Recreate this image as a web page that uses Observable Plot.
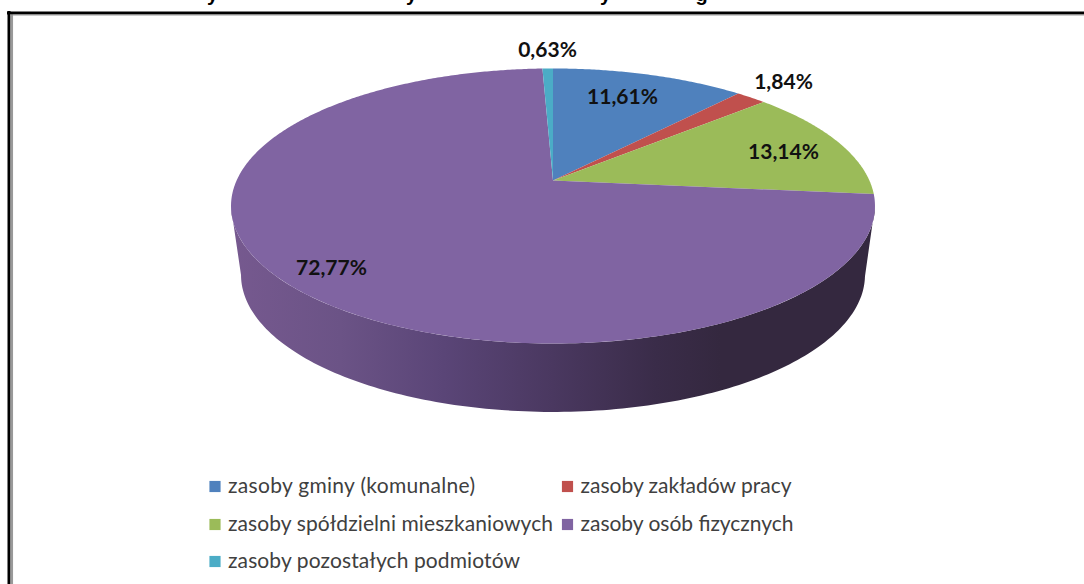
<!DOCTYPE html>
<html><head><meta charset="utf-8">
<style>html,body{margin:0;padding:0;background:#fff;overflow:hidden}svg{display:block}</style>
<script src="https://cdn.jsdelivr.net/npm/d3@7"></script>
<script src="https://cdn.jsdelivr.net/npm/@observablehq/plot@0.6"></script>
</head><body><div id="chart"></div>
<script>
const categories = ["zasoby gminy (komunalne)","zasoby zakładów pracy","zasoby spółdzielni mieszkaniowych","zasoby osób fizycznych","zasoby pozostałych podmiotów"];
const values = [11.61,1.84,13.14,72.77,0.63];
const valueLabels = ["11,61%","1,84%","13,14%","72,77%","0,63%"];
const colors = ["#4f81bd","#c0504d","#9bbb59","#8064a2","#4bacc6"];
const labelX = [622,783,783,331,547];
const labelY = [97,82,152,268,50];
const legendSwatchX = [214.5,567,214.5,567,214.5];
const legendRowY = [486,486,524,524,561];
const legendTextWidths = [247,211,325,213,292];
const titleTailX = [212,411,605,701];
const titleTailText = ["y","y","y","g"];

// perspective projection of the pie disc
const apex = {x:552.5,y:180}, persp = 0.1854, R = 316.4, K = 132.8;
const project = (deg, cx=apex.x, cy=apex.y, sx=1, sy=1) => {
  const t = deg*Math.PI/180, u = Math.sin(t), v = Math.cos(t), d = 1+persp*v;
  return {x: cx + sx*R*u/d, y: cy - sy*K*v/d};
};
const total = d3.sum(values);
let acc = 0;
const sliceRows = [];
categories.forEach((name,i)=>{
  const a0 = acc/total*360; acc += values[i]; const a1 = acc/total*360;
  sliceRows.push({name, ...apex});
  const n = Math.ceil((a1-a0)*2)+1;
  for (let k=0;k<=n;k++) sliceRows.push({name, ...project(a0+(a1-a0)*k/n)});
});
// visible wall: front half of top rim and front half of lower rim
const tiltDeg = Math.acos(-persp)*180/Math.PI; // rim's widest point
const wall = [];
for (let a=tiltDeg; a<=360-tiltDeg+1e-6; a+=1) wall.push(project(a));
const lowSx = 312/322, lowSy = 137/137.5, lowCy = apex.y+69;
for (let a=360-tiltDeg; a>=tiltDeg-1e-6; a-=1) wall.push(project(a,apex.x,lowCy,lowSx,lowSy));

const swatches = categories.map((name,i)=>({name,x:legendSwatchX[i],y:legendRowY[i],w:legendTextWidths[i]}));
const defs = () => {
  const ns = "http://www.w3.org/2000/svg";
  const d = document.createElementNS(ns,"defs");
  const g = document.createElementNS(ns,"linearGradient");
  g.setAttribute("id","wallGrad");
  [[0,"#76598f"],[0.17,"#6b5386"],[0.33,"#5a4577"],[0.5,"#4a3860"],[0.66,"#3a2c49"],[0.76,"#34283f"],[1,"#34283f"]].forEach(([o,c])=>{
    const s = document.createElementNS(ns,"stop"); s.setAttribute("offset",o); s.setAttribute("stop-color",c); g.appendChild(s);
  });
  d.appendChild(g); return d;
};
const chart = Plot.plot({
  width:1084,height:584,margin:0,
  style:{background:"#fff",fontFamily:"Lato"},
  x:{domain:[0,1084],range:[0,1084],axis:null},
  y:{domain:[0,584],range:[0,584],axis:null},
  color:{domain:categories,range:colors},
  marks:[
    defs,
    Plot.line(wall,{x:"x",y:"y",fill:"url(#wallGrad)",stroke:"none"}),
    Plot.line(sliceRows,{x:"x",y:"y",z:"name",fill:"name",stroke:"none"}),
    Plot.text(valueLabels,{x:(d,i)=>labelX[i],y:(d,i)=>labelY[i],text:d=>d,fontSize:21,fontWeight:700,fill:"#111",fontFamily:"Lato"}),
    Plot.dot(swatches,{x:"x",y:"y",symbol:"square",r:6.3,fill:"name",stroke:"none"}),
    Plot.text(swatches,{x:d=>d.x+13,y:"y",text:"name",textAnchor:"start",fontSize:21,fill:"#404040",fontFamily:"Lato",className:"legend-label"}),
    Plot.ruleX([8.5],{y1:11,y2:584,stroke:"#000",strokeWidth:3}),
    Plot.ruleX([11.3],{y1:14,y2:584,stroke:"#999",strokeWidth:2.5}),
    Plot.ruleY([12.5],{x1:7,x2:1084,stroke:"#000",strokeWidth:3}),
    Plot.ruleY([14.5],{x1:10,x2:1084,stroke:"#999",strokeWidth:1}),
    Plot.text(titleTailText,{x:(d,i)=>titleTailX[i],y:()=>0,text:d=>d,lineAnchor:"bottom",fontSize:20,fontWeight:700,fill:"#000",fontFamily:"Liberation Sans"})
  ]
});
d3.select(chart).selectAll(".legend-label text").each(function(_,i){
  this.setAttribute("textLength",legendTextWidths[i]);
  this.setAttribute("lengthAdjust","spacing");
});
document.getElementById("chart").append(chart);
</script></body></html>
